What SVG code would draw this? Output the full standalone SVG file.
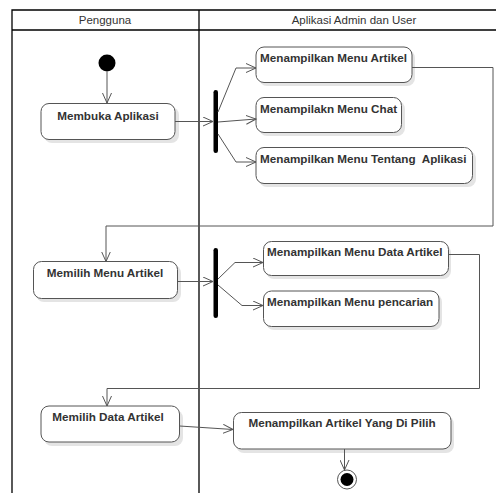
<svg xmlns="http://www.w3.org/2000/svg" width="496" height="493" viewBox="0 0 496 493">
<defs>
<style>
.lane{fill:none;stroke:#000;stroke-width:1.3}
.hd{font-family:"Liberation Sans",Arial,sans-serif;font-size:11.5px;fill:#333;text-anchor:middle}
.box{fill:#fff;stroke:#555;stroke-width:1}
.sh{fill:#e4e4e4}
.t{font-family:"Liberation Sans",Arial,sans-serif;font-size:11.7px;font-weight:bold;fill:#333}
.c{text-anchor:middle}
.cn{fill:none;stroke:#555;stroke-width:1}
.bar{fill:#000}
</style>
<marker id="ar" markerWidth="12" markerHeight="10" refX="10" refY="5" orient="auto" markerUnits="userSpaceOnUse">
<path d="M0,0.5 L10,5 L0,9.5" fill="none" stroke="#555" stroke-width="1"/>
</marker>
</defs>
<rect width="496" height="493" fill="#fff"/>
<g id="lanes">
<path class="lane" d="M12,493 V10 H497 M12,30 H497 M199,10 V493"/>
<text class="hd" x="105" y="24">Pengguna</text>
<text class="hd" x="354" y="24">Aplikasi Admin dan User</text>
</g>
<g id="start"><circle cx="107" cy="63" r="8.5" fill="#000"/></g>
<g id="membuka">
<rect class="sh" x="44" y="107" width="135" height="36" rx="8"/>
<rect class="box" x="41" y="103.5" width="134" height="36" rx="8"/>
<text class="t c" x="108" y="120">Membuka Aplikasi</text>
</g>
<g id="fork1"><rect class="bar" x="213.5" y="90" width="4.5" height="63" rx="2.2"/></g>
<g id="artikel">
<rect class="sh" x="259" y="50" width="156" height="36" rx="8"/>
<rect class="box" x="256" y="47" width="156" height="35.5" rx="8"/>
<text class="t" x="260" y="62">Menampilkan Menu Artikel</text>
</g>
<g id="chat">
<rect class="sh" x="259" y="101" width="146" height="35" rx="8"/>
<rect class="box" x="256" y="97.5" width="145.5" height="35" rx="8"/>
<text class="t" x="260" y="113">Menampilakn Menu Chat</text>
</g>
<g id="tentang">
<rect class="sh" x="259" y="151" width="217" height="36" rx="8"/>
<rect class="box" x="256" y="147.5" width="216.5" height="36" rx="8"/>
<text class="t" x="260" y="163" xml:space="preserve">Menampilkan Menu Tentang  Aplikasi</text>
</g>
<g id="memilihmenu">
<rect class="sh" x="36" y="265" width="145" height="37" rx="8"/>
<rect class="box" x="33.5" y="261.5" width="144" height="37" rx="8"/>
<text class="t c" x="105" y="277">Memilih Menu Artikel</text>
</g>
<g id="fork2"><rect class="bar" x="213.5" y="248" width="4.5" height="70" rx="2.2"/></g>
<g id="dataartikel">
<rect class="sh" x="266" y="245" width="185" height="34" rx="8"/>
<rect class="box" x="263.5" y="241.5" width="185" height="34" rx="8"/>
<text class="t" x="267" y="256">Menampilkan Menu Data Artikel</text>
</g>
<g id="pencarian">
<rect class="sh" x="266" y="294" width="176" height="36" rx="8"/>
<rect class="box" x="263.5" y="291" width="175.5" height="35.5" rx="8"/>
<text class="t" x="267" y="306">Menampilkan Menu pencarian</text>
</g>
<g id="memilihdata">
<rect class="sh" x="44" y="410" width="139" height="36" rx="8"/>
<rect class="box" x="41" y="406" width="138.5" height="36" rx="8"/>
<text class="t c" x="108" y="421">Memilih Data Artikel</text>
</g>
<g id="tampilartikel">
<rect class="sh" x="236" y="416" width="218" height="37" rx="8"/>
<rect class="box" x="233.5" y="412.5" width="217.5" height="36.5" rx="8"/>
<text class="t c" x="342" y="427">Menampilkan Artikel Yang Di Pilih</text>
</g>
<g id="end">
<circle cx="347" cy="479.5" r="9.5" fill="#fff" stroke="#555" stroke-width="1"/>
<circle cx="347" cy="479.5" r="6.5" fill="#000"/>
</g>
<g id="connectors">
<path class="cn" d="M107,71.5 V103" marker-end="url(#ar)"/>
<path class="cn" d="M175,121.5 H213" marker-end="url(#ar)"/>
<path class="cn" d="M218,112 L236,68 H256" marker-end="url(#ar)"/>
<path class="cn" d="M218,122 L256,119" marker-end="url(#ar)"/>
<path class="cn" d="M218,134 L236,162 H256" marker-end="url(#ar)"/>
<path class="cn" d="M412,67.5 H493 V226 H106 V261.5" marker-end="url(#ar)"/>
<path class="cn" d="M177.5,281.5 H213" marker-end="url(#ar)"/>
<path class="cn" d="M218,279 L235,262.5 H263" marker-end="url(#ar)"/>
<path class="cn" d="M218,285 L242,305.5 H263" marker-end="url(#ar)"/>
<path class="cn" d="M448.5,254.5 H479.5 V388.5 H107 V406" marker-end="url(#ar)"/>
<path class="cn" d="M179.5,426 L233,429.5" marker-end="url(#ar)"/>
<path class="cn" d="M344.5,449 V470" marker-end="url(#ar)"/>
</g>
</svg>
